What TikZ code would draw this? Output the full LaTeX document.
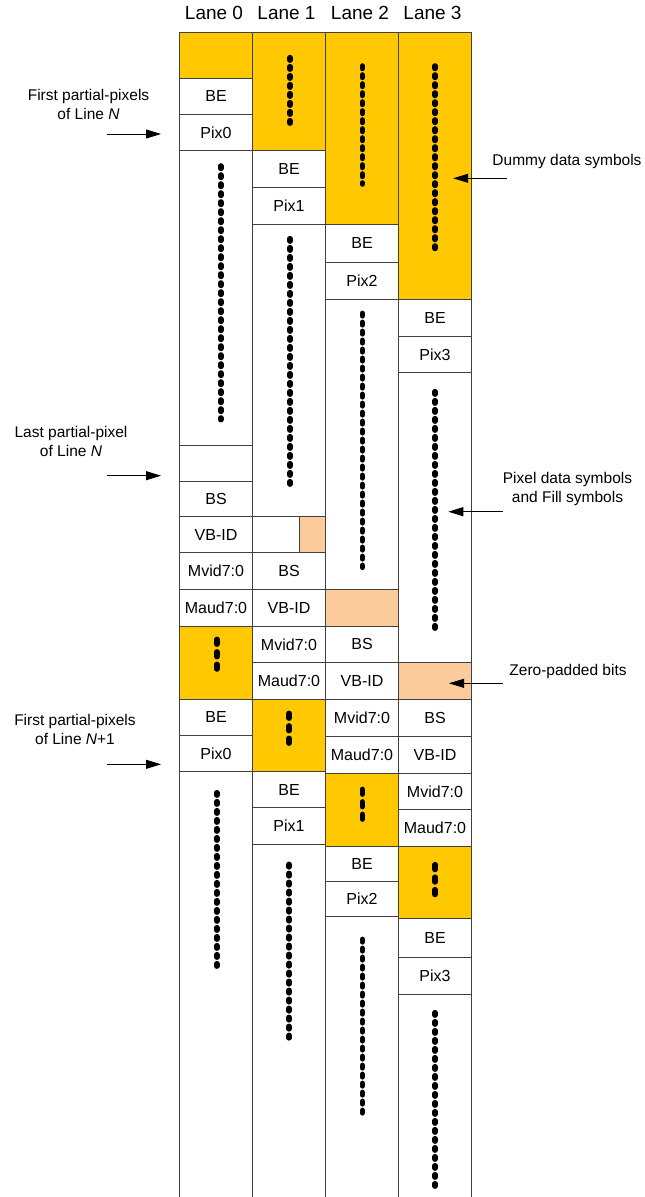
\documentclass[tikz,border=0pt]{standalone}
\usepackage{fontspec}
\setmainfont{Liberation Sans}
\usetikzlibrary{arrows.meta,calc}

\definecolor{dummy}{HTML}{FFC800}
\definecolor{padbits}{HTML}{FCCB9C}

\tikzset{
  cell/.style={draw=black!75, line width=1pt, minimum width=73pt, inner sep=0pt,
               outer sep=0pt, font=\fontsize{16}{19}\selectfont, fill=white},
  longdots/.style={line width=5.6pt, line cap=round, dash pattern=on 2.4pt off 6.6pt},
  shortdots/.style={line width=5.6pt, line cap=round, dash pattern=on 4.7pt off 7.8pt},
  pointer/.style={-{Triangle[length=15pt,width=9pt]}, line width=0.9pt},
  note/.style={font=\fontsize{15.5}{19}\selectfont, align=center, inner sep=0pt, anchor=base},
  lanehead/.style={font=\fontsize{19}{22}\selectfont, inner sep=0pt, anchor=base},
}

% one symbol slot of a lane: name, left x, top y, bottom y, fill, text
\newcommand\lanecell[6]{%
  \node[cell, fill=#5, minimum height={(#4)-(#3)}] (#1) at ({#2+36.5},{((#3)+(#4))/2}) {#6};}

\begin{document}
\begin{tikzpicture}[x=1pt, y=-1pt]
\useasboundingbox (0,0) rectangle (645,1197);
\fill[white] (0,0) rectangle (645,1197);

% lane headers
\node[lanehead] (h0) at (214,19.3) {Lane 0};
\node[lanehead] (h1) at (286.5,19.3) {Lane 1};
\node[lanehead] (h2) at (360,19.3) {Lane 2};
\node[lanehead] (h3) at (432.5,19.3) {Lane 3};

% Lane 0
\lanecell{l0dummy}{179.5}{32}{78}{dummy}{}
\lanecell{l0be}{179.5}{78}{114.3}{white}{BE}
\lanecell{l0pix}{179.5}{114.3}{150.7}{white}{Pix0}
\lanecell{l0data}{179.5}{150.7}{445}{white}{}
\lanecell{l0last}{179.5}{445}{481.7}{white}{}
\lanecell{l0bs}{179.5}{481.7}{516.7}{white}{BS}
\lanecell{l0vbid}{179.5}{516.7}{552.7}{white}{VB-ID}
\lanecell{l0mvid}{179.5}{552.7}{589.3}{white}{Mvid7:0}
\lanecell{l0maud}{179.5}{589.3}{626}{white}{Maud7:0}
\lanecell{l0fill}{179.5}{626}{699.3}{dummy}{}
\lanecell{l0beb}{179.5}{699.3}{735.3}{white}{BE}
\lanecell{l0pixb}{179.5}{735.3}{771.7}{white}{Pix0}
\lanecell{l0datab}{179.5}{771.7}{1205}{white}{}

% Lane 1
\lanecell{l1dummy}{252.5}{32}{150.7}{dummy}{}
\lanecell{l1be}{252.5}{150.7}{187.5}{white}{BE}
\lanecell{l1pix}{252.5}{187.5}{224.3}{white}{Pix1}
\lanecell{l1data}{252.5}{224.3}{516.7}{white}{}
\lanecell{l1tail}{252.5}{516.7}{552.7}{white}{}
\node[cell, fill=padbits, minimum width=26.2pt, minimum height=36pt] (l1pad) at (312.4,534.7) {};
\lanecell{l1bs}{252.5}{552.7}{589.3}{white}{BS}
\lanecell{l1vbid}{252.5}{589.3}{626}{white}{VB-ID}
\lanecell{l1mvid}{252.5}{626}{662.7}{white}{Mvid7:0}
\lanecell{l1maud}{252.5}{662.7}{699.3}{white}{Maud7:0}
\lanecell{l1fill}{252.5}{699.3}{771.7}{dummy}{}
\lanecell{l1beb}{252.5}{771.7}{807.5}{white}{BE}
\lanecell{l1pixb}{252.5}{807.5}{844}{white}{Pix1}
\lanecell{l1datab}{252.5}{844}{1205}{white}{}

% Lane 2
\lanecell{l2dummy}{325.5}{32}{224.3}{dummy}{}
\lanecell{l2be}{325.5}{224.3}{262.5}{white}{BE}
\lanecell{l2pix}{325.5}{262.5}{299.3}{white}{Pix2}
\lanecell{l2data}{325.5}{299.3}{589.3}{white}{}
\lanecell{l2pad}{325.5}{589.3}{626}{padbits}{}
\lanecell{l2bs}{325.5}{626}{662.7}{white}{BS}
\lanecell{l2vbid}{325.5}{662.7}{699.3}{white}{VB-ID}
\lanecell{l2mvid}{325.5}{699.3}{736.7}{white}{Mvid7:0}
\lanecell{l2maud}{325.5}{736.7}{773.3}{white}{Maud7:0}
\lanecell{l2fill}{325.5}{773.3}{846.7}{dummy}{}
\lanecell{l2beb}{325.5}{846.7}{881.7}{white}{BE}
\lanecell{l2pixb}{325.5}{881.7}{916.3}{white}{Pix2}
\lanecell{l2datab}{325.5}{916.3}{1205}{white}{}

% Lane 3
\lanecell{l3dummy}{398.5}{32}{299.3}{dummy}{}
\lanecell{l3be}{398.5}{299.3}{336.3}{white}{BE}
\lanecell{l3pix}{398.5}{336.3}{372.7}{white}{Pix3}
\lanecell{l3data}{398.5}{372.7}{662.7}{white}{}
\lanecell{l3pad}{398.5}{662.7}{699.3}{padbits}{}
\lanecell{l3bs}{398.5}{699.3}{736.7}{white}{BS}
\lanecell{l3vbid}{398.5}{736.7}{773.3}{white}{VB-ID}
\lanecell{l3mvid}{398.5}{773.3}{809.5}{white}{Mvid7:0}
\lanecell{l3maud}{398.5}{809.5}{846.7}{white}{Maud7:0}
\lanecell{l3fill}{398.5}{846.7}{918.3}{dummy}{}
\lanecell{l3beb}{398.5}{918.3}{957.7}{white}{BE}
\lanecell{l3pixb}{398.5}{957.7}{994.3}{white}{Pix3}
\lanecell{l3datab}{398.5}{994.3}{1205}{white}{}

% symbol ellipsis columns
\draw[longdots] (290,57.7) -- (290,126.3);
\draw[longdots] (362.3,66) -- (362.3,184);
\draw[longdots] (435,66) -- (435,253);
\draw[longdots] (220.7,166) -- (220.7,419.6);
\draw[longdots] (290,238.7) -- (290,489);
\draw[longdots] (362.3,313.4) -- (362.3,567.3);
\draw[longdots] (435,391.7) -- (435,631.3);
\draw[longdots] (216.7,792.7) -- (216.7,966.6);
\draw[longdots] (289,864.4) -- (289,1039);
\draw[longdots] (362.3,939.4) -- (362.3,1114);
\draw[longdots] (435,1012.7) -- (435,1187.3);
\draw[shortdots] (216.7,639.4) -- (216.7,669);
\draw[shortdots] (289,713.4) -- (289,743.3);
\draw[shortdots] (362.3,789.4) -- (362.3,820);
\draw[shortdots] (435,864.7) -- (435,895);

% annotations on the left (base anchor sits on the last line)
\node[note] (lblFirstN) at (88.5,119) {First partial-pixels\\of Line \textit{N}};
\node[note] (lblLastN) at (71,456.7) {Last partial-pixel\\of Line \textit{N}};
\node[note] (lblFirstN1) at (75,744.3) {First partial-pixels\\of Line \textit{N}+1};
\coordinate (aFirstN) at (106.7,134);
\coordinate (aLastN) at (106.7,475.7);
\coordinate (aFirstN1) at (106.7,764.3);
\draw[pointer, shorten >=18.5pt] (aFirstN) -- (aFirstN -| l0pix.west);
\draw[pointer, shorten >=18.5pt] (aLastN) -- (aLastN -| l0last.west);
\draw[pointer, shorten >=18.5pt] (aFirstN1) -- (aFirstN1 -| l0pixb.west);

% annotations on the right
\node[note] (lblDummy) at (567,165.7) {Dummy data symbols};
\node[note] (lblPixel) at (567.5,502.3) {Pixel data symbols\\and Fill symbols};
\node[note] (lblZero) at (568,675) {Zero-padded bits};
\coordinate (aDummy) at (507,178.3);
\coordinate (aPixel) at (502.7,511.7);
\coordinate (aZero) at (503.3,683.3);
\draw[pointer, shorten >=18.2pt] (aDummy) -- (aDummy -| l3dummy.center);
\draw[pointer, shorten >=13.3pt] (aPixel) -- (aPixel -| l3data.center);
\draw[pointer, shorten >=14pt] (aZero) -- (aZero -| l3pad.center);
\end{tikzpicture}
\end{document}
